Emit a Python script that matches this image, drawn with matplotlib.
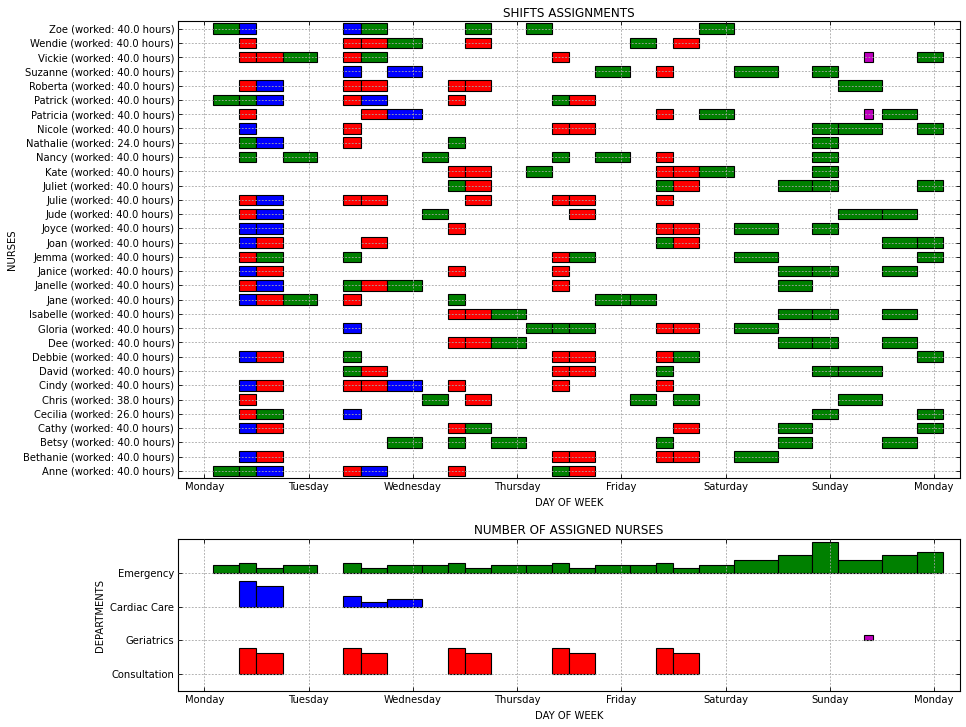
import matplotlib
matplotlib.use("Agg")
import matplotlib.pyplot as plt

day_names = ["Monday", "Tuesday", "Wednesday", "Thursday", "Friday",
             "Saturday", "Sunday", "Monday"]
day_index = {"Mon": 0, "Tue": 1, "Wed": 2, "Thu": 3, "Fri": 4, "Sat": 5, "Sun": 6}

# lower panel rows, bottom -> top
departments = ["Consultation", "Geriatrics", "Cardiac Care", "Emergency"]
dept_codes = {"E": "Emergency", "C": "Consultation", "K": "Cardiac Care", "G": "Geriatrics"}
dept_colors = {"Emergency": "g", "Cardiac Care": "b", "Consultation": "r", "Geriatrics": "m"}

# (department, day, start hour, end hour) - end < start means the shift ends next day
shift_list = [
    ("E", "Mon", 2, 8), ("E", "Mon", 8, 12), ("E", "Mon", 12, 18), ("E", "Mon", 18, 2),
    ("C", "Mon", 8, 12), ("C", "Mon", 12, 18), ("K", "Mon", 8, 12), ("K", "Mon", 12, 18),
    ("E", "Tue", 8, 12), ("E", "Tue", 12, 18), ("E", "Tue", 18, 2),
    ("C", "Tue", 8, 12), ("C", "Tue", 12, 18),
    ("K", "Tue", 8, 12), ("K", "Tue", 12, 18), ("K", "Tue", 18, 2),
    ("E", "Wed", 2, 8), ("E", "Wed", 8, 12), ("E", "Wed", 12, 18), ("E", "Wed", 18, 2),
    ("C", "Wed", 8, 12), ("C", "Wed", 12, 18),
    ("E", "Thu", 2, 8), ("E", "Thu", 8, 12), ("E", "Thu", 12, 18), ("E", "Thu", 18, 2),
    ("C", "Thu", 8, 12), ("C", "Thu", 12, 18),
    ("E", "Fri", 2, 8), ("E", "Fri", 8, 12), ("E", "Fri", 12, 18), ("E", "Fri", 18, 2),
    ("C", "Fri", 8, 12), ("C", "Fri", 12, 18),
    ("E", "Sat", 2, 12), ("E", "Sat", 12, 20), ("E", "Sat", 20, 2),
    ("E", "Sun", 2, 12), ("E", "Sun", 12, 20), ("E", "Sun", 20, 2),
    ("G", "Sun", 8, 10),
]

nurse_names = ["Anne", "Bethanie", "Betsy", "Cathy", "Cecilia", "Chris", "Cindy",
               "David", "Debbie", "Dee", "Gloria", "Isabelle", "Jane", "Janelle",
               "Janice", "Jemma", "Joan", "Joyce", "Jude", "Julie", "Juliet", "Kate",
               "Nancy", "Nathalie", "Nicole", "Patricia", "Patrick", "Roberta",
               "Suzanne", "Vickie", "Wendie", "Zoe"]

# shift key = department letter + day + start hour
nurse_shifts = {
    "Zoe": "EMon02 KMon08 KTue08 ETue12 EWed12 EThu02 EFri18",
    "Wendie": "CMon08 CTue08 CTue12 ETue18 CWed12 EFri02 CFri12",
    "Vickie": "CMon08 CMon12 EMon18 CTue08 ETue12 CThu08 GSun08 ESun20",
    "Suzanne": "KTue08 KTue18 EThu18 CFri08 ESat02 ESat20",
    "Roberta": "CMon08 KMon12 CTue08 CTue12 CWed08 CWed12 ESun02",
    "Patrick": "EMon02 EMon08 KMon12 CTue08 KTue12 CWed08 EThu08 CThu12",
    "Patricia": "CMon08 CTue12 KTue18 CFri08 EFri18 GSun08 ESun12",
    "Nicole": "KMon08 CTue08 CThu08 CThu12 ESat20 ESun02 ESun20",
    "Nathalie": "EMon08 KMon12 CTue08 EWed08 ESat20",
    "Nancy": "EMon08 EMon18 EWed02 EThu08 EThu18 CFri08 ESat20",
    "Kate": "CWed08 CWed12 EThu02 CFri08 CFri12 EFri18 ESat20",
    "Juliet": "EWed08 CWed12 EFri08 CFri12 ESat12 ESat20 ESun20",
    "Julie": "CMon08 KMon12 CTue08 CTue12 CWed12 CThu08 CThu12 CFri08",
    "Jude": "CMon08 KMon12 EWed02 CThu12 ESun02 ESun12",
    "Joyce": "KMon08 KMon12 CWed08 CFri08 CFri12 ESat02 ESat20",
    "Joan": "KMon08 CMon12 CTue12 EFri08 CFri12 ESun12 ESun20",
    "Jemma": "CMon08 EMon12 ETue08 CThu08 EThu12 ESat02 ESun20",
    "Janice": "KMon08 CMon12 CWed08 CThu08 ESat12 ESat20 ESun12",
    "Janelle": "CMon08 KMon12 ETue08 CTue12 ETue18 CThu08 ESat12",
    "Jane": "KMon08 CMon12 EMon18 CTue08 EWed08 EThu18 EFri02",
    "Isabelle": "CWed08 CWed12 EWed18 ESat12 ESat20 ESun12",
    "Gloria": "KTue08 EThu02 EThu08 EThu12 CFri08 CFri12 ESat02",
    "Dee": "CWed08 CWed12 EWed18 ESat12 ESat20 ESun12",
    "Debbie": "KMon08 CMon12 ETue08 CThu08 CThu12 CFri08 EFri12 ESun20",
    "David": "ETue08 CTue12 CThu08 CThu12 EFri08 ESat20 ESun02",
    "Cindy": "KMon08 CMon12 CTue08 CTue12 KTue18 CWed08 CThu08 CFri08",
    "Chris": "CMon08 EWed02 CWed12 EFri02 EFri12 ESun02",
    "Cecilia": "CMon08 EMon12 KTue08 ESat20 ESun20",
    "Cathy": "KMon08 CMon12 CWed08 EWed12 CFri12 ESat12 ESun20",
    "Betsy": "ETue18 EWed08 EWed18 EFri08 ESat12 ESun12",
    "Bethanie": "KMon08 CMon12 CThu08 CThu12 CFri08 CFri12 ESat02",
    "Anne": "EMon02 EMon08 KMon12 CTue08 KTue12 CWed08 EThu08 CThu12",
}

# --- shift table: key -> (department, start, end) in hours from Monday 0:00
shifts = {}
for d, day, s, e in shift_list:
    start = 24 * day_index[day] + s
    end = 24 * day_index[day] + e
    if e <= s:
        end += 24
    shifts["%s%s%02d" % (d, day, s)] = (dept_codes[d], start, end)

fs = 7.2
lw = 0.8
fig = plt.figure(figsize=(9.66, 7.27), dpi=100)
ax1 = fig.add_axes([0.1846, 0.3425, 0.8092, 0.628])
ax2 = fig.add_axes([0.1846, 0.0495, 0.8092, 0.2087])

# --- top: nurse shifts
labels = []
for i, name in enumerate(nurse_names):
    keys = nurse_shifts[name].split()
    hours = 0
    for k in keys:
        dept, start, end = shifts[k]
        hours += end - start
        ax1.barh(i, end - start, left=start, height=0.74, color=dept_colors[dept],
                 edgecolor="k", linewidth=lw)
    labels.append("%s (worked: %.1f hours)" % (name, hours))

ax1.set_yticks(range(len(nurse_names)))
ax1.set_yticklabels(labels)
ax1.set_ylim(-0.5, len(nurse_names) - 0.5)
ax1.set_title("SHIFTS ASSIGNMENTS", fontsize=fs * 1.2, pad=3.5)
ax1.set_ylabel("NURSES", fontsize=fs)
ax1.set_xlabel("DAY OF WEEK", fontsize=fs)

# --- bottom: number of nurses per shift
counts = {k: 0 for k in shifts}
for name in nurse_names:
    for k in nurse_shifts[name].split():
        counts[k] += 1

for k, (dept, start, end) in shifts.items():
    ax2.bar(start, counts[k] / 13.0, width=end - start, bottom=departments.index(dept),
            align="edge", color=dept_colors[dept], edgecolor="k", linewidth=lw)

ax2.set_yticks(range(len(departments)))
ax2.set_yticklabels(departments)
ax2.set_ylim(-0.5, 4)
ax2.set_title("NUMBER OF ASSIGNED NURSES", fontsize=fs * 1.2, pad=4)
ax2.set_ylabel("DEPARTMENTS", fontsize=fs)
ax2.set_xlabel("DAY OF WEEK", fontsize=fs)

for ax in (ax1, ax2):
    ax.set_xlim(-6, 174)
    ax.set_xticks([24 * i for i in range(len(day_names))])
    ax.set_xticklabels(day_names)
    ax.tick_params(direction="in", top=True, right=True, length=3, width=0.6,
                   labelsize=fs, pad=3)
    ax.grid(True, color="0.65", linestyle=(0, (2.2, 1.8)), linewidth=0.6)
    ax.set_axisbelow(False)
    for sp in ax.spines.values():
        sp.set_linewidth(lw)

fig.savefig("out.png", dpi=100)
